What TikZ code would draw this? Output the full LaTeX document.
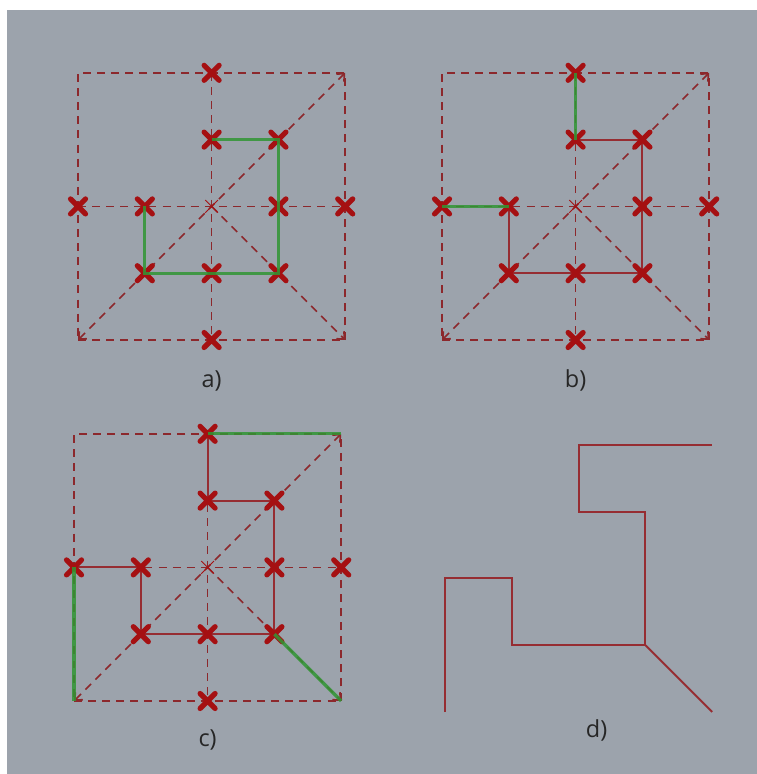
\documentclass[tikz,border=0pt]{standalone}
\usepackage{fontspec}
\setmainfont{Open Sans}
\usetikzlibrary{arrows.meta,shapes.misc}

\definecolor{bggray}{RGB}{156,163,172}
\definecolor{gridred}{RGB}{140,40,44}
\definecolor{markred}{RGB}{165,16,18}
\definecolor{pathred}{RGB}{150,45,50}
\definecolor{pathgreen}{RGB}{48,150,52}

\tikzset{
  guide/.style={gridred, line width=0.7pt, dash pattern=on 3.4pt off 2.6pt},
  tipped/.style={{Straight Barb[length=2.5pt,width=4.5pt]}-{Straight Barb[length=2.5pt,width=4.5pt]}},
  ptmark/.style={cross out, draw=markred, line width=2.2pt, line cap=round, minimum size=4.2pt, inner sep=0pt},
  midmark/.style={cross out, draw=markred, line width=0.4pt, minimum size=5pt, inner sep=0pt},
  walk/.style={pathred, line width=0.85pt, line join=miter},
  greenstep/.style={pathgreen, line width=1.4pt, opacity=0.85},
  caption/.style={font=\fontsize{10}{12}\selectfont, text=black!85}
}

% grid points of one panel, local unit = one cell
\newcommand{\panelpoints}[1]{%
  \coordinate (#1-sw) at (0,0);
  \coordinate (#1-se) at (4,0);
  \coordinate (#1-ne) at (4,4);
  \coordinate (#1-nw) at (0,4);
  \coordinate (#1-c) at (2,2);
  \coordinate (#1-t) at (2,4);
  \coordinate (#1-u) at (2,3);
  \coordinate (#1-ur) at (3,3);
  \coordinate (#1-l) at (0,2);
  \coordinate (#1-ml) at (1,2);
  \coordinate (#1-mr) at (3,2);
  \coordinate (#1-r) at (4,2);
  \coordinate (#1-dl) at (1,1);
  \coordinate (#1-d) at (2,1);
  \coordinate (#1-dr) at (3,1);
  \coordinate (#1-b) at (2,0);
}
% dashed frame, middle lines and diagonals
\newcommand{\panelguides}[1]{%
  \draw[guide] (#1-sw) -- (#1-se) -- (#1-ne) -- (#1-nw) -- cycle;
  \draw[guide] (#1-t) -- (#1-b);
  \draw[guide] (#1-l) -- (#1-r);
  \draw[guide, tipped] (#1-sw) -- (#1-ne);
  \draw[guide, -{Straight Barb[length=2.5pt,width=4.5pt]}] (#1-c) -- (#1-se);
  \node[midmark] (#1-cm) at (#1-c) {};
}
\newcommand{\panelmarks}[1]{%
  \foreach \p in {t,u,ur,l,ml,mr,r,dl,d,dr,b}
    \node[ptmark] (#1-\p-m) at (#1-\p) {};
}

\begin{document}
\begin{tikzpicture}
  \useasboundingbox (0,0) rectangle (11.332,-11.587);
  \fill[white] (0,0) rectangle (11.332,-11.587);
  \fill[bggray] (0.105,-0.150) rectangle (11.332,-11.587);

  % a) first step
  \begin{scope}[shift={(1.168,-5.090)}]
    \panelpoints{a}
    \panelguides{a}
    \panelmarks{a}
    \draw[greenstep] (a-u) -- (a-ur) -- (a-dr) -- (a-dl) -- (a-ml);
    \node[caption] (a-cap) at (2,-0.62) {a)};
  \end{scope}

  % b) second step
  \begin{scope}[shift={(6.617,-5.090)}]
    \panelpoints{b}
    \panelguides{b}
    \draw[walk] (b-u) -- (b-ur) -- (b-dr) -- (b-dl) -- (b-ml);
    \panelmarks{b}
    \draw[greenstep] (b-t) -- (b-u);
    \draw[greenstep] (b-l) -- (b-ml);
    \node[caption] (b-cap) at (2,-0.60) {b)};
  \end{scope}

  % c) third step
  \begin{scope}[shift={(1.108,-10.494)}]
    \panelpoints{c}
    \panelguides{c}
    \draw[walk] (c-t) -- (c-u) -- (c-ur) -- (c-dr) -- (c-dl) -- (c-ml) -- (c-l);
    \panelmarks{c}
    \draw[greenstep] (c-t) -- (c-ne);
    \draw[greenstep] (c-l) -- (c-sw);
    \draw[greenstep] (c-dr) -- (c-se);
    \node[caption] (c-cap) at (2,-0.58) {c)};
  \end{scope}

  % d) resulting curve
  \begin{scope}[shift={(6.662,-10.659)}]
    \panelpoints{d}
    \draw[walk] (d-sw) -- (d-l) -- (d-ml) -- (d-dl) -- (d-dr) -- (d-ur) -- (d-u) -- (d-t) -- (d-ne);
    \draw[walk] (d-dr) -- (d-se);
    \node[caption] (d-cap) at (2.27,-0.28) {d)};
  \end{scope}
\end{tikzpicture}
\end{document}
